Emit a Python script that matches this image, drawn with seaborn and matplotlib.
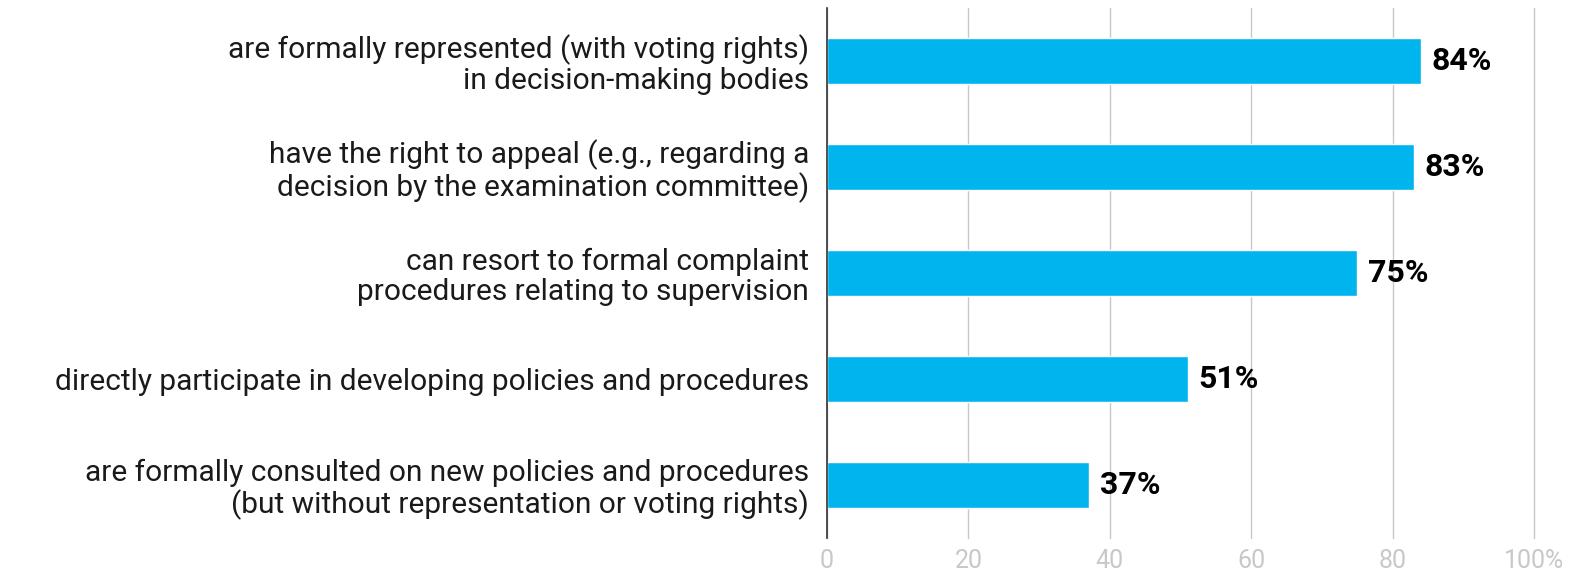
"""Horizontal bar chart: formal participation rights of representatives."""
import matplotlib.pyplot as plt
import pandas as pd
import seaborn as sns

LABELS = [
    "are formally represented (with voting rights)\nin decision-making bodies",
    "have the right to appeal (e.g., regarding a\ndecision by the examination committee)",
    "can resort to formal complaint\nprocedures relating to supervision",
    "directly participate in developing policies and procedures",
    "are formally consulted on new policies and procedures\n(but without representation or voting rights)",
]
VALUES = [84, 83, 75, 51, 37]
TICKS = [0, 20, 40, 60, 80, 100]
TICK_LABELS = ["0", "20", "40", "60", "80", "100%"]

BAR_COLOR = "#00B5EE"

sns.set_theme(style="white")
plt.rcParams["font.family"] = ["Roboto", "DejaVu Sans"]

df = pd.DataFrame({"label": LABELS, "value": VALUES})

fig = plt.figure(figsize=(15.7, 5.76), dpi=100)
ax = fig.add_axes([827 / 1570, 1 - 538 / 576, (1534 - 827) / 1570, 530 / 576])

sns.barplot(data=df, x="value", y="label", orient="h", color=BAR_COLOR,
            saturation=1, width=0.43, ax=ax, zorder=3)

ax.set_xlim(0, 100)
ax.set_ylim(4.5, -0.5)
ax.set_xticks(TICKS)
ax.set_xticklabels(TICK_LABELS, color="#c8c8c8", fontsize=18)
ax.tick_params(axis="x", length=0, pad=8)
ax.tick_params(axis="y", length=0, pad=13)
for lab in ax.get_yticklabels():
    lab.set_fontsize(21.5)
    lab.set_color("#1a1a1a")
    lab.set_horizontalalignment("right")
    lab.set_multialignment("right")
    lab.set_linespacing(1.08)
ax.set_xlabel("")
ax.set_ylabel("")

ax.grid(axis="x", color="#c8c8c8", linewidth=1, zorder=0)
for gl in ax.get_xgridlines():
    gl.set_clip_on(False)
for side in ["top", "right", "bottom"]:
    ax.spines[side].set_visible(False)
ax.spines["left"].set_color("#333333")
ax.spines["left"].set_linewidth(1.2)
ax.spines["left"].set_zorder(4)

for container in ax.containers:
    ax.bar_label(container, labels=[f"{v}%" for v in VALUES], padding=8,
                 fontsize=23, fontweight="bold", color="black")

fig.savefig("out.png", dpi=100)
